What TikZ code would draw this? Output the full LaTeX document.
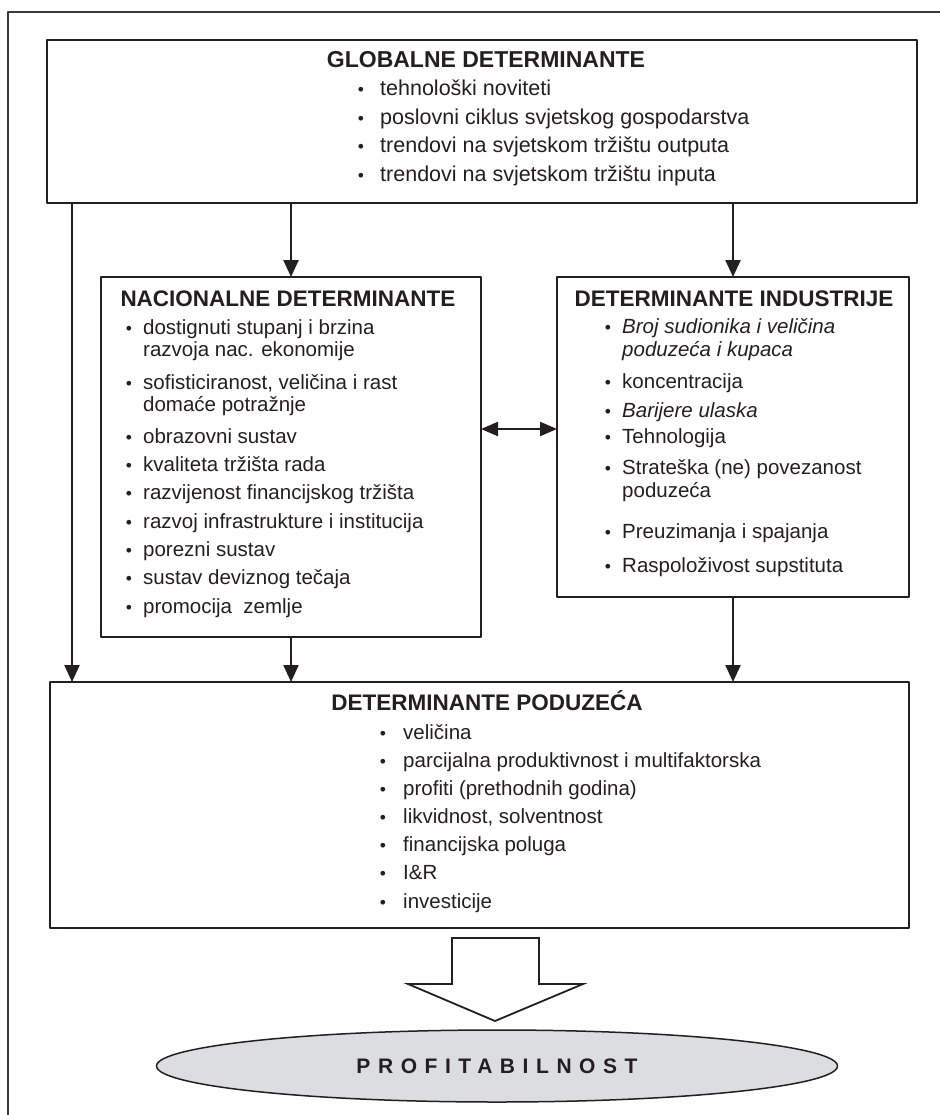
\documentclass[tikz,border=0pt]{standalone}
\usepackage{fontspec}
\setmainfont{Liberation Sans}
\usetikzlibrary{arrows.meta, positioning, shapes.geometric}
\definecolor{inkdk}{HTML}{231F20}
\definecolor{framegray}{HTML}{3A3A3A}
\definecolor{ovalfill}{HTML}{DCDDDE}
\tikzset{
  detbox/.style   = {draw=inkdk, line width=1.8pt, anchor=north west,
                     inner sep=0pt, outer sep=0pt},
  boxtitle/.style = {anchor=base, inner sep=0pt, text=inkdk,
                     font=\fontsize{22.5}{24}\selectfont\bfseries},
  bul/.style      = {anchor=base, inner sep=0pt, text=inkdk,
                     font=\fontsize{17.5}{22}\selectfont},
  itm/.style      = {anchor=base west, inner sep=0pt, text=inkdk,
                     font=\fontsize{20.5}{22}\selectfont},
  globitm/.style  = {itm, font=\fontsize{21.5}{22}\selectfont},
  flow/.style     = {draw=inkdk, line width=2.3pt,
                     -{Triangle[length=17pt, width=15pt]}},
  flowboth/.style = {flow, {Triangle[length=17pt, width=14pt]}-{Triangle[length=17pt, width=14pt]}},
  bigarrow/.style = {draw=inkdk, line width=1.8pt, fill=white, line join=miter},
  oval/.style     = {ellipse, draw=inkdk, line width=1.5pt, fill=ovalfill,
                     minimum width=681pt, minimum height=72pt, inner sep=0pt,
                     text=inkdk, font=\fontsize{21}{24}\selectfont\bfseries},
  frame/.style    = {draw=framegray, line width=1.2pt},
}

\begin{document}
\begin{tikzpicture}[x=1pt, y=-1pt, line join=round]
  \useasboundingbox (0,0) rectangle (939,1115);
  \draw[frame] (8,1125) -- (8,12) -- (950,12);

  % boxes
  \node[detbox, minimum width=870pt, minimum height=163pt] (glob) at (47,40) {};
  \node[detbox, minimum width=380pt, minimum height=360pt] (nac) at (101,277) {};
  \node[detbox, minimum width=352pt, minimum height=320pt] (ind) at (557,277) {};
  \node[detbox, minimum width=859pt, minimum height=246pt] (firm) at (50,682) {};

  % global
  \node[boxtitle, font=\fontsize{23}{24}\selectfont\bfseries] at (486,68) {GLOBALNE DETERMINANTE};
  \foreach \yy/\txt in {96/tehnološki noviteti,
                        125/poslovni ciklus svjetskog gospodarstva,
                        153/trendovi na svjetskom tržištu outputa,
                        182/trendovi na svjetskom tržištu inputa}{
    \node[bul] at (361,\yy) {\textbullet};
    \node[globitm] at (380,\yy) {\txt};
  }

  % nacionalne
  \node[boxtitle] at (288,306) {NACIONALNE DETERMINANTE};
  \foreach \yy/\txt in {334/dostignuti stupanj i brzina,
                        389/{sofisticiranost, veličina i rast},
                        443/obrazovni sustav,
                        471/kvaliteta tržišta rada,
                        499/razvijenost financijskog tržišta,
                        528/razvoj infrastrukture i institucija,
                        556/porezni sustav,
                        584/sustav deviznog tečaja,
                        613/promocija~~zemlje}{
    \node[bul] at (129,\yy) {\textbullet};
    \node[itm] at (143,\yy) {\txt};
  }
  \node[itm] at (143,356) {razvoja nac. ekonomije};
  \node[itm] at (143,411) {domaće potražnje};

  % industrija
  \node[boxtitle] at (734,306) {DETERMINANTE INDUSTRIJE};
  \foreach \yy/\txt in {333/{\itshape Broj sudionika i veličina},
                        388/koncentracija,
                        417/{\itshape Barijere ulaska},
                        443/Tehnologija,
                        474/Strateška (ne) povezanost,
                        538/Preuzimanja i spajanja,
                        572/Raspoloživost supstituta}{
    \node[bul] at (608,\yy) {\textbullet};
    \node[itm] at (622,\yy) {\txt};
  }
  \node[itm, font=\fontsize{20.5}{22}\selectfont\itshape] at (622,356) {poduzeća i kupaca};
  \node[itm] at (622,497) {poduzeća};

  % poduzece
  \node[boxtitle] at (487,710) {DETERMINANTE PODUZEĆA};
  \foreach \yy/\txt in {739/veličina,
                        767/parcijalna produktivnost i multifaktorska,
                        795/profiti (prethodnih godina),
                        823/{likvidnost, solventnost},
                        851/financijska poluga,
                        879/I\&R,
                        908/investicije}{
    \node[bul] at (383,\yy) {\textbullet};
    \node[itm] at (403,\yy) {\txt};
  }

  % connectors
  \coordinate (lft) at (72,0);
  \coordinate (dbl) at (0,429);
  \draw[flow] (glob.south -| lft) -- (firm.north -| lft);
  \draw[flow] (nac.north |- glob.south) -- (nac.north);
  \draw[flow] (ind.north |- glob.south) -- (ind.north);
  \draw[flow] (nac.south) -- (nac.south |- firm.north);
  \draw[flow] (ind.south) -- (ind.south |- firm.north);
  \draw[flowboth] (nac.east |- dbl) -- (ind.west |- dbl);

  % result
  \draw[bigarrow] (452,938) -- (539,938) -- (539,984) -- (583,984)
    -- (495,1021) -- (408,984) -- (452,984) -- cycle;
  \node[oval] (prof) at (497,1066) {\addfontfeature{LetterSpace=36}PROFITABILNOST};
\end{tikzpicture}
\end{document}
